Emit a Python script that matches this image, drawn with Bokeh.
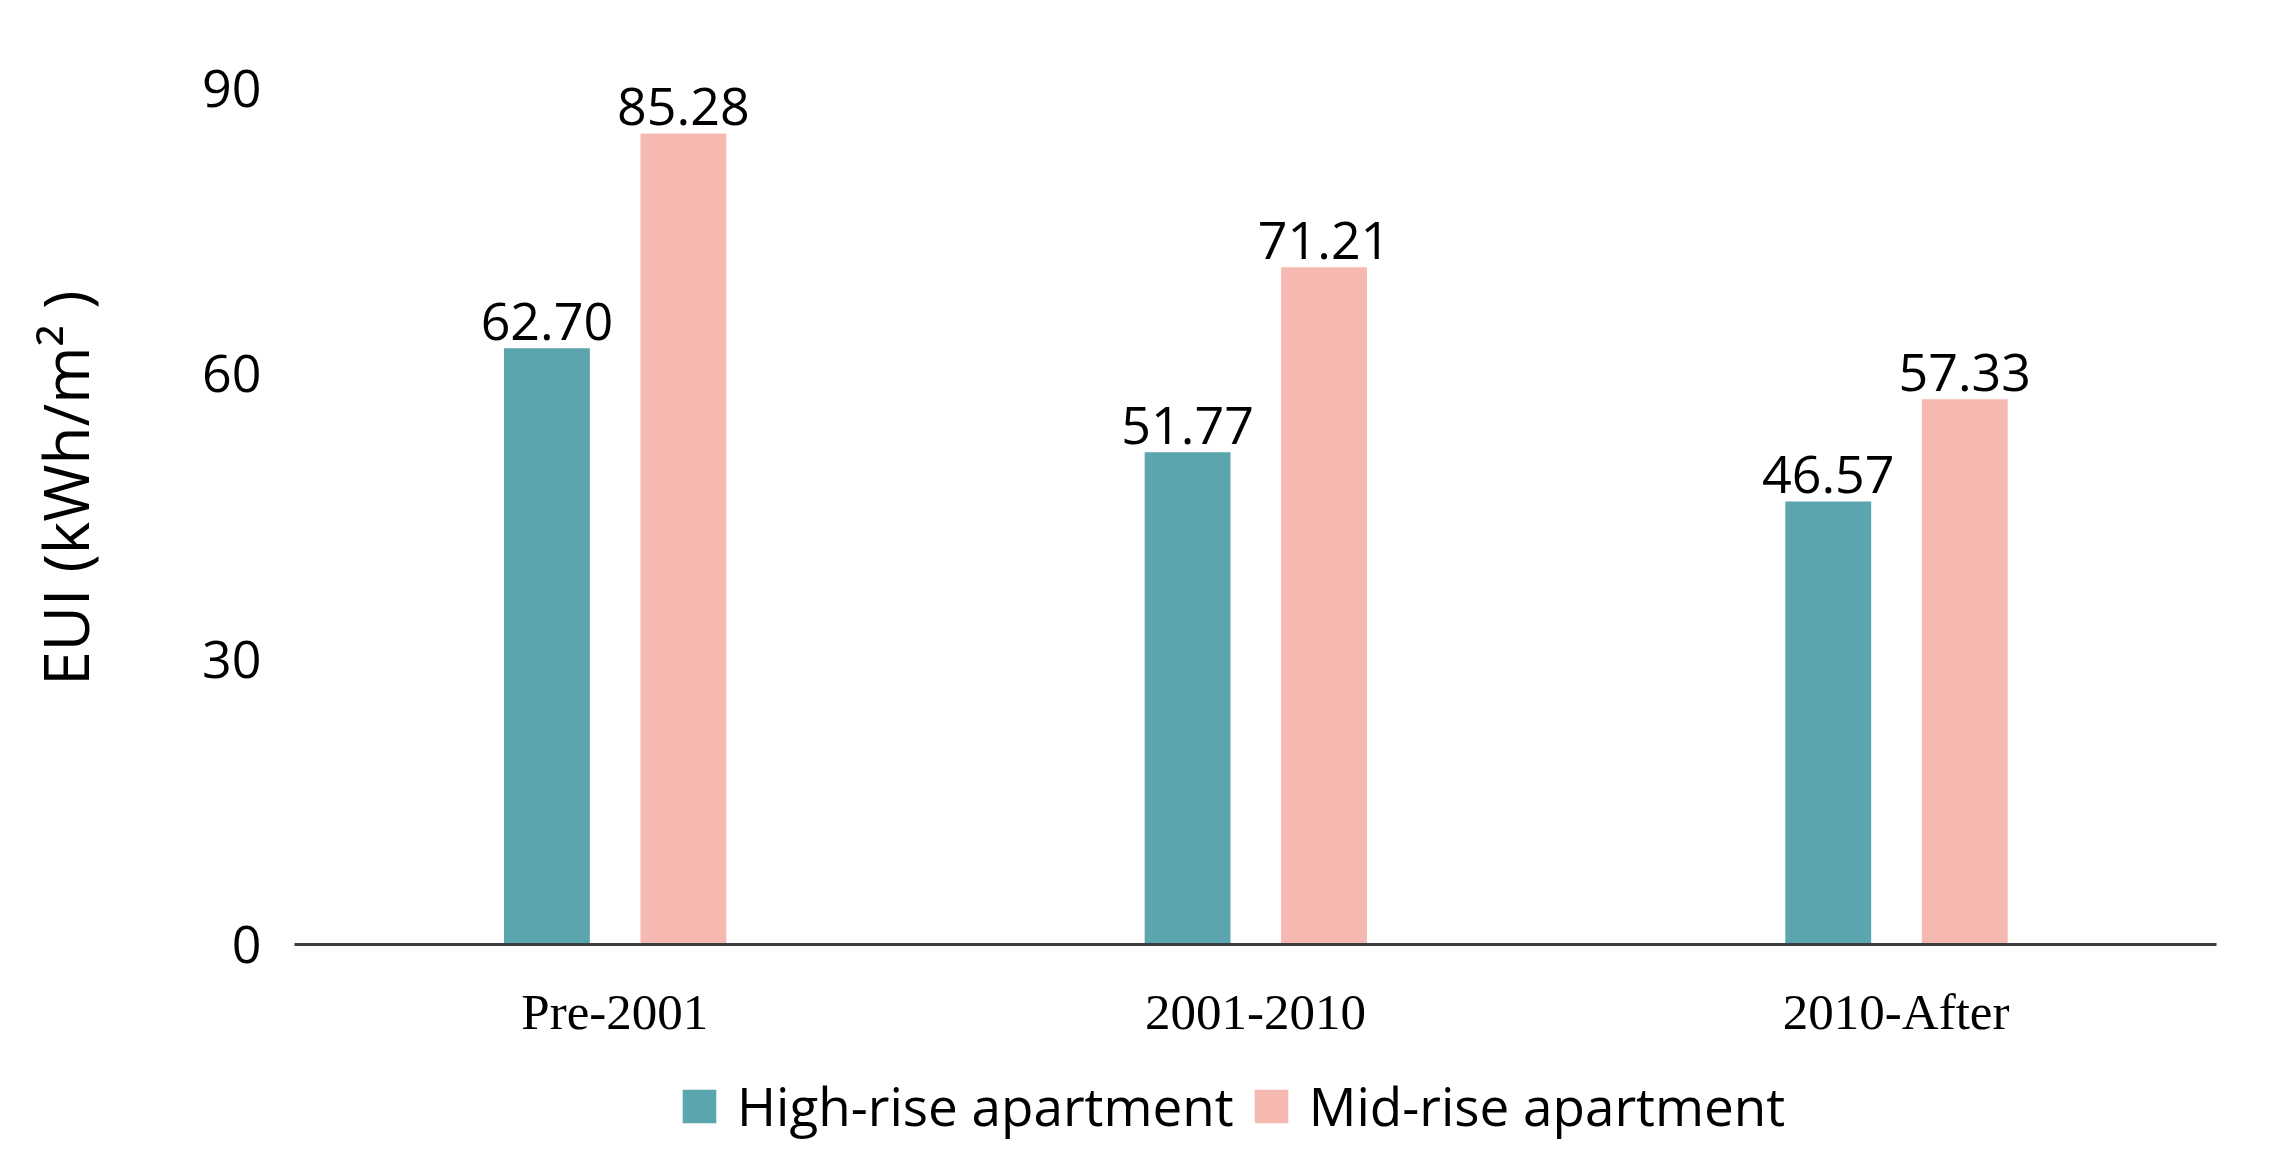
from bokeh.plotting import figure
from bokeh.layouts import column
from bokeh.models import FactorRange, Range1d, FixedTicker, Legend, LegendItem, ColumnDataSource
from bokeh.transform import dodge
from bokeh.core.properties import value
from bokeh.embed import file_html
from bokeh.resources import INLINE

categories = ["Pre-2001", "2001-2010", "2010-After"]
high_rise = [62.70, 51.77, 46.57]
mid_rise = [85.28, 71.21, 57.33]
series_names = ["High-rise apartment", "Mid-rise apartment"]
y_ticks = [0, 30, 60, 90]

teal = "#5BA5AF"
pink = "#F6B9B2"

src = ColumnDataSource(dict(
    cat=categories,
    high=high_rise,
    mid=mid_rise,
    high_lbl=["{:.2f}".format(v) for v in high_rise],
    mid_lbl=["{:.2f}".format(v) for v in mid_rise],
))

p = figure(x_range=FactorRange(factors=categories), y_range=Range1d(0, 96),
           width=2262, height=1060, output_backend="svg", toolbar_location=None,
           min_border_left=294, min_border_right=46, min_border_top=31, min_border_bottom=116)

p.xgrid.visible = False
p.ygrid.visible = False
p.outline_line_color = None
p.background_fill_color = "white"
p.border_fill_color = "white"

r1 = p.vbar(x=dodge("cat", -0.106, range=p.x_range), top="high", width=0.134, source=src,
            fill_color=teal, line_color=None)
r2 = p.vbar(x=dodge("cat", 0.107, range=p.x_range), top="mid", width=0.134, source=src,
            fill_color=pink, line_color=None)

for xo, col in [(-0.106, "high"), (0.107, "mid")]:
    p.text(x=dodge("cat", xo, range=p.x_range), y=col, text=col + "_lbl", source=src,
           text_align="center", text_baseline="alphabetic", y_offset=-27,
           text_font=value("Open Sans"), text_font_size="52px", text_color="black")

ya = p.yaxis[0]
ya.ticker = FixedTicker(ticks=y_ticks)
ya.axis_line_color = None
ya.major_tick_line_color = None
ya.minor_tick_line_color = None
ya.major_label_text_font = "Open Sans"
ya.major_label_text_font_size = "52px"
ya.major_label_text_color = "black"
ya.major_label_standoff = 27
ya.axis_label = "EUI (kWh/m\u00b2 )"
ya.axis_label_text_font = "Open Sans"
ya.axis_label_text_font_size = "62px"
ya.axis_label_text_font_style = "normal"
ya.axis_label_text_color = "black"
ya.axis_label_standoff = 92

xa = p.xaxis[0]
xa.axis_line_color = "#3a3f44"
xa.axis_line_width = 3
xa.major_tick_line_color = None
xa.minor_tick_line_color = None
xa.major_label_text_font = "Liberation Serif"
xa.major_label_text_font_size = "51px"
xa.major_label_text_color = "black"
xa.major_label_standoff = 33

# legend strip below the chart (its frame is aligned with the chart's frame)
p2 = figure(x_range=Range1d(0, 1), y_range=Range1d(0, 1), width=2262, height=94,
            output_backend="svg", toolbar_location=None,
            x_axis_location=None, y_axis_location=None,
            min_border_left=0, min_border_right=0, min_border_top=0, min_border_bottom=0)
p2.xgrid.visible = False
p2.ygrid.visible = False
p2.outline_line_color = None
p2.background_fill_color = "white"
p2.border_fill_color = "white"

# off-view proxy renderers that only supply the legend swatches
proxy = ColumnDataSource(dict(x=[-1.0], top=[0.0]))
l1 = p2.vbar(x="x", top="top", width=0.1, source=proxy, fill_color=teal, line_color=None)
l2 = p2.vbar(x="x", top="top", width=0.1, source=proxy, fill_color=pink, line_color=None)

legend = Legend(items=[LegendItem(label=series_names[0], renderers=[l1]),
                       LegendItem(label=series_names[1], renderers=[l2])],
                orientation="horizontal", location=(384, 12),
                label_text_font="Open Sans", label_text_font_size="53px",
                label_text_color="black",
                glyph_width=42, glyph_height=42, label_standoff=17, spacing=16,
                padding=0, margin=0, border_line_color=None, background_fill_alpha=0)
p2.add_layout(legend)

layout = column(p, p2, spacing=0)
open("out.html", "w").write(file_html(layout, INLINE))
